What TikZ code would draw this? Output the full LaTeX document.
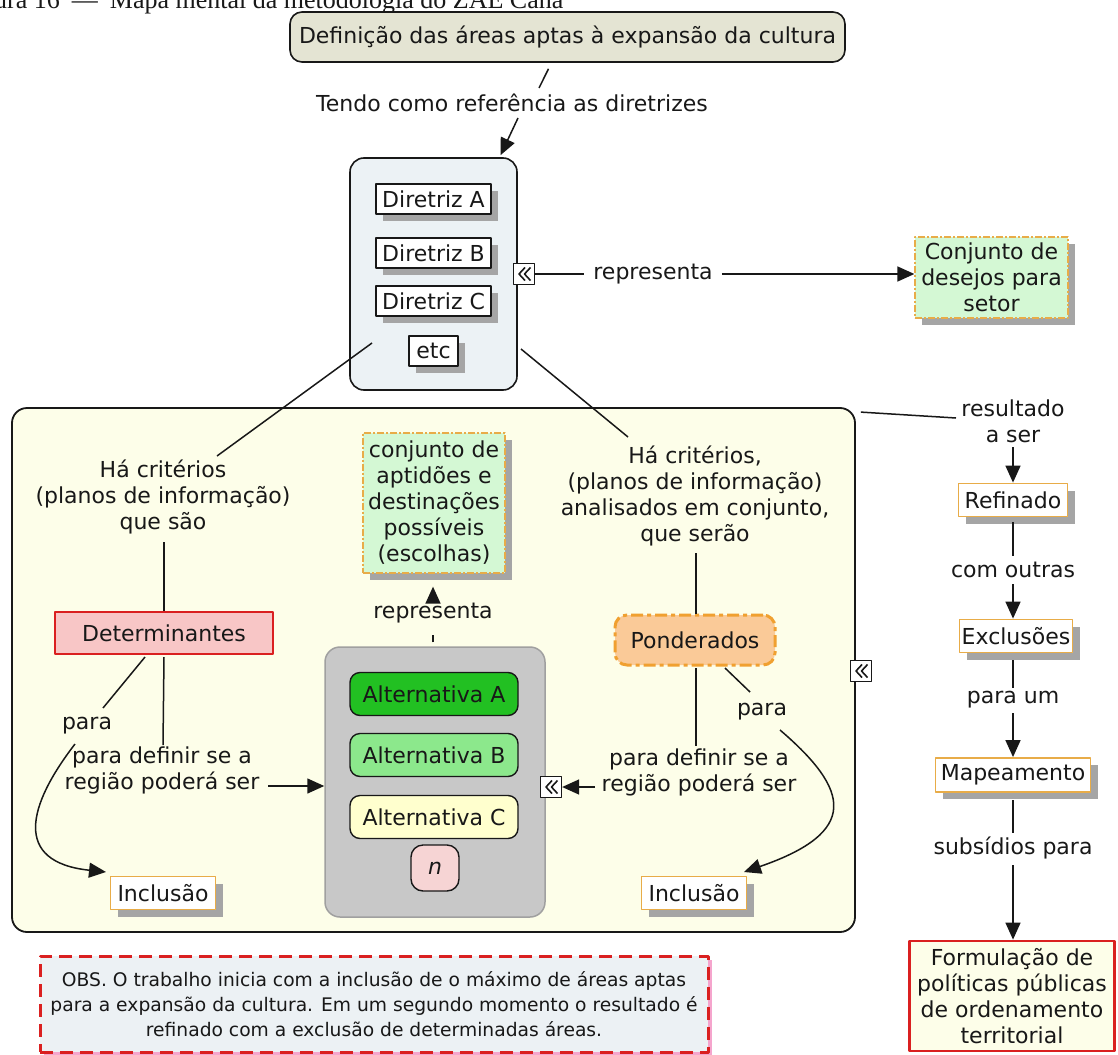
\documentclass[tikz,border=0pt]{standalone}
\usepackage{fontspec}
\setmainfont{DejaVu Sans}
\newfontfamily\capfont{Liberation Serif}
\usetikzlibrary{arrows.meta,shadows}

\definecolor{ink}{RGB}{24,24,24}
\definecolor{topfill}{RGB}{228,228,211}
\definecolor{dirfill}{RGB}{236,242,245}
\definecolor{creamfill}{RGB}{253,254,233}
\definecolor{mintfill}{RGB}{212,248,212}
\definecolor{gold}{RGB}{232,172,72}
\definecolor{detfill}{RGB}{248,198,198}
\definecolor{detred}{RGB}{218,32,32}
\definecolor{grayfill}{RGB}{200,200,200}
\definecolor{grayline}{RGB}{160,160,160}
\definecolor{altA}{RGB}{34,192,34}
\definecolor{altB}{RGB}{140,232,140}
\definecolor{altC}{RGB}{255,255,206}
\definecolor{nfill}{RGB}{246,212,212}
\definecolor{ponfill}{RGB}{250,202,152}
\definecolor{ponline}{RGB}{240,160,48}
\definecolor{shade}{RGB}{165,165,165}
\definecolor{obsfill}{RGB}{236,241,244}
\definecolor{obspink}{RGB}{245,165,205}

\newcommand\dg{\fontsize{22}{26}\selectfont}

\begin{document}
\begin{tikzpicture}[x=1pt,y=-1pt,line join=round,
  every node/.style={font=\dg,text=ink},
  lbl/.style={align=center,inner sep=1pt},
  box/.style={draw=ink,align=center,inner sep=0pt},
  sh/.style={drop shadow={shadow xshift=7pt,shadow yshift=-7pt,fill=shade,opacity=1}},
  goldline/.style={draw=gold,line width=1.3pt,dash pattern=on 7pt off 2pt on 2pt off 2pt},
  plainbox/.style={box,fill=white,draw=gold,line width=1.8pt,sh,minimum height=33},
  dirbox/.style={box,fill=white,line width=1.4pt,sh,minimum height=30},
  altbox/.style={box,rounded corners=10,line width=1.4pt,minimum width=168,minimum height=43},
  conn/.style={draw=ink,line width=1.5pt},
  arr/.style={conn,-{Triangle[length=17pt,width=15pt]}},
  iconbox/.style={draw=ink,fill=white,line width=1.3pt,minimum width=21,minimum height=21,inner sep=0pt,
    path picture={\draw[line width=1.6pt,shift={(path picture bounding box.center)}]
      (1,-6.5) -- (-5,0) -- (1,6.5) (6.5,-6.5) -- (0.5,0) -- (6.5,6.5);}}
]
\path[use as bounding box] (0,0) rectangle (1118,1054);
\clip (0,0) rectangle (1118,1054);
\fill[white] (0,0) rectangle (1118,1054);

% caption line of the figure
\node[font=\capfont\fontsize{26}{30}\selectfont,anchor=base west,inner sep=0pt] (caption) at (-6,9)
  {ura 16\hspace{12pt}—\hspace{12pt}Mapa mental da metodologia do ZAE Cana};

% ---------- top part ----------
\node[box,fill=topfill,rounded corners=12,line width=1.6pt,minimum width=555,minimum height=50] (top) at (567.5,37)
  {Definição das áreas aptas à expansão da cultura};
\node[lbl] (tendo) at (512,103) {Tendo como referência as diretrizes};

\node[box,fill=dirfill,rounded corners=14,line width=1.6pt,minimum width=167,minimum height=232] (dircont) at (433.5,274) {};
\node[dirbox,minimum width=115] (dirA) at (433.5,199) {Diretriz A};
\node[dirbox,minimum width=115] (dirB) at (433.5,253) {Diretriz B};
\node[dirbox,minimum width=115] (dirC) at (433.5,301) {Diretriz C};
\node[dirbox,minimum width=49] (dirEtc) at (433.5,351) {etc};
\node[iconbox] (ic1) at (524,274) {};

\node[lbl] (rep1) at (653,274) {representa};
\node[box,fill=mintfill,goldline,sh,minimum width=153,minimum height=81] (desejos) at (991.5,277.5)
  {Conjunto de\\desejos para\\setor};

% ---------- main frame ----------
\node[box,fill=creamfill,rounded corners=15,line width=1.8pt,minimum width=843,minimum height=524] (bigcont) at (433.5,670) {};
\node[iconbox] (ic3) at (861,671) {};

\node[lbl] (crit1) at (163,497) {Há critérios\\(planos de informação)\\que são};
\node[lbl] (crit2) at (695,496) {Há critérios,\\(planos de informação)\\analisados em conjunto,\\que serão};

\node[box,fill=detfill,draw=detred,line width=2.8pt,minimum width=218,minimum height=42] (det) at (164,633) {Determinantes};
\node[box,fill=ponfill,draw=ponline,line width=3pt,dash pattern=on 12pt off 4pt on 4pt off 4pt,
  rounded corners=12,minimum width=160,minimum height=50] (pond) at (695,640) {Ponderados};

\node[box,fill=mintfill,goldline,sh,minimum width=142,minimum height=140] (apt) at (434,503)
  {conjunto de\\aptidões e\\destinações\\possíveis\\(escolhas)};
\node[lbl] (rep2) at (433,613) {representa};

\node[box,fill=grayfill,draw=grayline,line width=1.5pt,rounded corners=15,minimum width=220,minimum height=270] (altcont) at (435,782) {};
\node[altbox,fill=altA] (altA) at (434,694) {Alternativa A};
\node[altbox,fill=altB] (altB) at (434,755) {Alternativa B};
\node[altbox,fill=altC] (altC) at (434,817) {Alternativa C};
\node[box,fill=nfill,rounded corners=12,line width=1.4pt,minimum width=48,minimum height=46] (altN) at (435,868) {\textit{n}};
\node[iconbox] (ic2) at (551,787) {};

\node[lbl] (paraL) at (87,726) {para};
\node[lbl] (defL) at (162,770) {para definir se a\\região poderá ser};
\node[lbl] (paraR) at (762,712) {para};
\node[lbl] (defR) at (699,772) {para definir se a\\região poderá ser};

\node[plainbox,minimum width=105] (inclL) at (163,893) {Inclusão};
\node[plainbox,minimum width=105] (inclR) at (694,893) {Inclusão};

% ---------- right column ----------
\node[lbl] (res) at (1013,421) {resultado\\a ser};
\node[plainbox,minimum width=109] (refi) at (1013,500) {Refinado};
\node[lbl] (com) at (1013,570) {com outras};
\node[plainbox,minimum width=113] (excl) at (1016,636) {Exclusões};
\node[lbl] (paraum) at (1013,700) {para um};
\node[plainbox,minimum width=155,minimum height=34] (mapa) at (1013,775) {Mapeamento};
\node[lbl] (subs) at (1013,848) {subsídios para};
\node[box,fill=creamfill,draw=detred,line width=2.8pt,minimum width=205,minimum height=110] (form) at (1012,996)
  {Formulação de\\políticas públicas\\de ordenamento\\territorial};

% ---------- note ----------
\node[box,fill=obsfill,draw=detred,line width=3pt,dash pattern=on 13pt off 7pt,
  drop shadow={shadow xshift=4pt,shadow yshift=-4pt,fill=obspink,opacity=1},
  minimum width=668,minimum height=96,font=\fontsize{18.7}{25}\selectfont] (obs) at (374,1004)
  {OBS. O trabalho inicia com a inclusão de o máximo de áreas aptas\\
   para a expansão da cultura. Em um segundo momento o resultado é\\
   refinado com a exclusão de determinadas áreas.};

% ---------- connectors ----------
\draw[conn] ([shift={(-19,6)}]top.south) -- ([shift={(27,-15)}]tendo.center);
\draw[arr] ([shift={(6,15)}]tendo.center) -- ([shift={(67,-2)}]dircont.north);

\draw[conn] (ic1.east) -- ([shift={(-8,0)}]rep1.west);
\draw[arr] ([shift={(8,0)}]rep1.east) -- (desejos.west |- rep1.east);

\draw[conn] ([shift={(-61.5,69)}]dircont.center) -- ([shift={(54,-41)}]crit1.center);
\draw[conn] ([shift={(87.5,75)}]dircont.center) -- ([shift={(-67,-59)}]crit2.center);

\draw[conn] ([shift={(1,45)}]crit1.center) -- (det.north);
\draw[conn] ([shift={(-19,24)}]det.center) -- ([shift={(16,-18)}]paraL.center);
\draw[arr] ([shift={(-12,18)}]paraL.center) .. controls (28,805) and (12,862) .. ([shift={(-57,-21)}]inclL.center);
\draw[conn] ([shift={(0,24)}]det.center) -- ([shift={(1,-25)}]defL.center);
\draw[arr] ([shift={(106,16)}]defL.center) -- ([shift={(0,4)}]altcont.west);

\draw[conn] ([shift={(-2,-4)}]altcont.north) -- ([shift={(0,22)}]rep2.center);
\draw[arr] ([shift={(0,-12)}]rep2.center) -- ([shift={(-1,13)}]apt.south);

\draw[conn] ([shift={(1,57)}]crit2.center) -- ([shift={(1,0)}]pond.north);
\draw[conn] ([shift={(30,28)}]pond.center) -- ([shift={(-12,-20)}]paraR.center);
\draw[arr] ([shift={(18,18)}]paraR.center) .. controls (850,790) and (860,832) .. ([shift={(50,-21)}]inclR.center);
\draw[conn] ([shift={(1,28)}]pond.center) -- ([shift={(-3,-26)}]defR.center);
\draw[arr] ([shift={(-104,15)}]defR.center) -- (ic2.east);

\draw[conn] ([shift={(5,5)}]bigcont.north east) -- ([shift={(-57,-3)}]res.center);
\draw[arr] ([shift={(0,26)}]res.center) -- (refi.north);
\draw[conn] ([shift={(0,22)}]refi.center) -- ([shift={(0,-14)}]com.center);
\draw[arr] ([shift={(0,14)}]com.center) -- (com |- excl.north);
\draw[conn] ([shift={(-3,24)}]excl.center) -- ([shift={(0,-12)}]paraum.center);
\draw[arr] ([shift={(0,13)}]paraum.center) -- (mapa.north);
\draw[conn] ([shift={(0,25)}]mapa.center) -- ([shift={(0,-15)}]subs.center);
\draw[arr] ([shift={(0,17)}]subs.center) -- (subs |- form.north);
\end{tikzpicture}
\end{document}
